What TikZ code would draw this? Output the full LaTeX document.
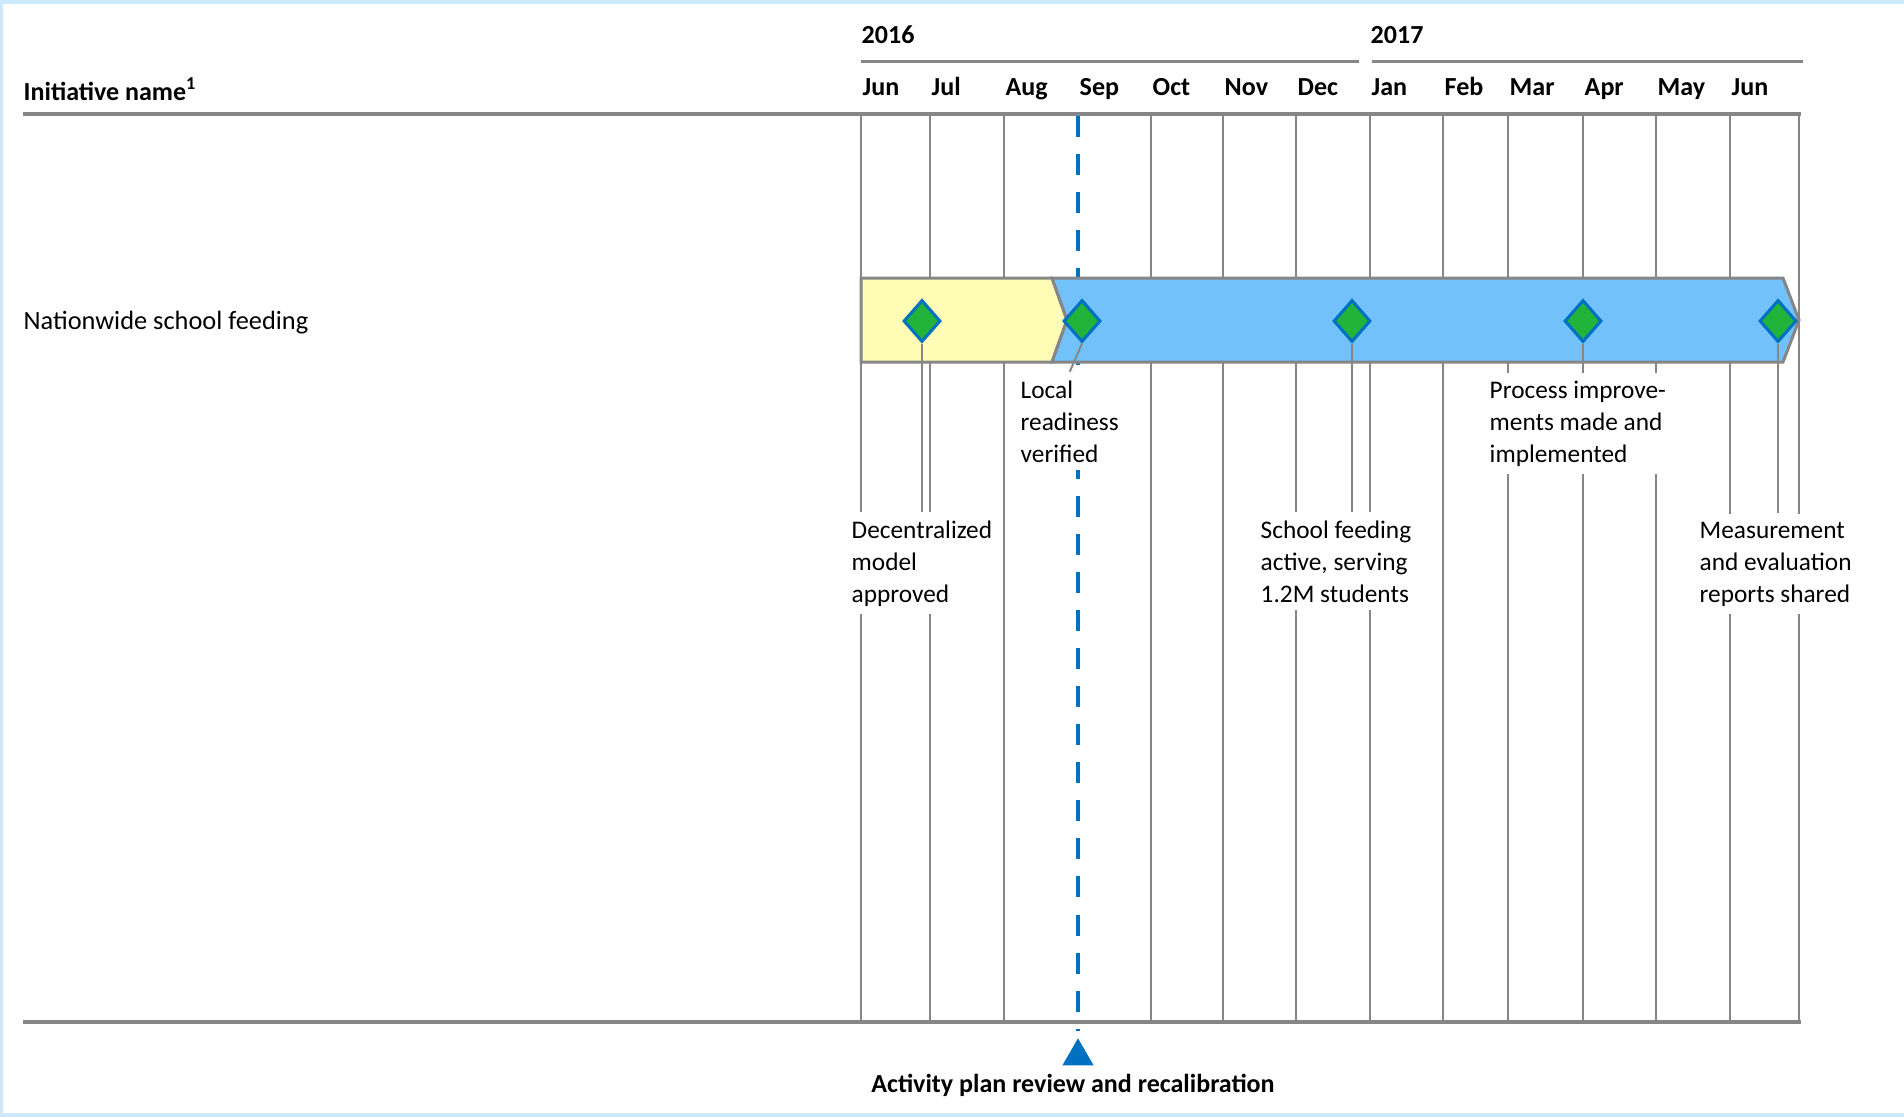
\documentclass[tikz,border=0pt]{standalone}
\usepackage{fontspec}
\setmainfont{Carlito}
\usepackage{xcolor}
\usetikzlibrary{shapes.geometric,positioning,calc}
\definecolor{frameblue}{RGB}{205,232,251}
\definecolor{gridgray}{RGB}{134,134,134}
\definecolor{barblue}{RGB}{114,193,251}
\definecolor{baryellow}{RGB}{255,253,181}
\definecolor{mstgreen}{RGB}{34,179,58}
\definecolor{mstblue}{RGB}{0,112,192}
\tikzset{
  plan grid/.style={draw=gridgray, line width=0.02cm},
  plan bar/.style={draw=gridgray, line width=0.03cm, line join=miter},
  plan milestone/.style={diamond, draw=mstblue, fill=mstgreen, line width=0.03cm, inner sep=0pt, minimum width=0.37cm, minimum height=0.42cm},
  plan note/.style={fill=white, align=left, anchor=base west, inner xsep=0.04cm, inner ysep=0.08cm, font=\fontsize{7.2}{9.1}\selectfont},
  plan head/.style={anchor=base west, inner sep=0pt, font=\fontsize{7.4}{9}\selectfont\bfseries}
}

\begin{document}
\begin{tikzpicture}[x=0.01cm, y=-0.01cm]
    \useasboundingbox (0,0) rectangle (1904,1117);
    % frame
    \fill [frameblue] (0,0) rectangle (1904,4);
    \fill [frameblue] (0,0) rectangle (3,1117);
    \fill [frameblue] (0,1113) rectangle (1904,1117);

    % years and months
    \node [plan head] (Y16) at (861,43) {2016};
    \node [plan head] (Y17) at (1370,43) {2017};
    \draw [gridgray, line width=0.03cm] (861,61) -- (1359,61);
    \draw [gridgray, line width=0.03cm] (1372,61) -- (1803,61);
    \node [plan head] (Init) at (23,100) {Initiative name\textsuperscript{1}};
    \foreach \x/\m [count=\i] in {861/Jun, 930/Jul, 1004/Aug, 1078/Sep, 1151/Oct, 1223/Nov, 1296/Dec,
                                  1370/Jan, 1443/Feb, 1508/Mar, 1583/Apr, 1656/May, 1730/Jun}
      \node [plan head] (Mon\i) at (\x+1,95) {\m};
    \draw [gridgray, line width=0.045cm] (23,114) -- (1801,114);
    \draw [gridgray, line width=0.045cm] (23,1022) -- (1801,1022);

    % grid
    \foreach \x in {861,930,1004,1151,1223,1296,1370,1443,1508,1583,1656,1730,1799}
      \draw [plan grid] (\x,114) -- (\x,1022);
    \draw [mstblue, line width=0.045cm, dash pattern=on 0.21cm off 0.17cm] (1078,116) -- (1078,1031);

    % initiative bar
    \node [anchor=base west, inner sep=0pt, font=\fontsize{7.5}{9}\selectfont] (Feed) at (23,329) {Nationwide school feeding};
    \filldraw [plan bar, fill=baryellow] (861,278) -- (1052,278) -- (1067,320) -- (1052,362) -- (861,362) -- cycle;
    \filldraw [plan bar, fill=barblue] (1052,278) -- (1783,278) -- (1799,320) -- (1783,362) -- (1052,362) -- (1067,320) -- cycle;
    \node [plan milestone] (D1) at (922,321) {};
    \node [plan milestone] (D2) at (1082,321) {};
    \node [plan milestone] (D3) at (1352,321) {};
    \node [plan milestone] (D4) at (1583,321) {};
    \node [plan milestone] (D5) at (1778,321) {};

    % milestones (anchored on the last line)
    \node [plan note] (N1) at (847,602) {Decentralized\\model\\approved};
    \node [plan note] (N2) at (1016,462) {Local\\readiness\\verified};
    \node [plan note] (N3) at (1256,602) {School feeding\\active, serving\\1.2M students};
    \node [plan note] (N4) at (1485,462) {Process improve-\\ments made and\\implemented};
    \node [plan note] (N5) at (1695,602) {Measurement\\and evaluation\\reports shared};
    \draw [plan grid] (D1.south) -- (D1.south |- N1.north);
    \draw [plan grid] (D2.south) -- (N2.north);
    \draw [plan grid] (D3.south) -- (D3.south |- N3.north);
    \draw [plan grid] (D4.south) -- (D4.south |- N4.north);
    \draw [plan grid] (D5.south) -- (D5.south |- N5.north);

    % review
    \node [plan head, anchor=base] (Review) at (1073,1092) {Activity plan review and recalibration};
    \node [regular polygon, regular polygon sides=3, fill=mstblue, inner sep=0pt, minimum size=0.36cm, anchor=south] (Mark) at (1078,1066) {};
\end{tikzpicture}
\end{document}
